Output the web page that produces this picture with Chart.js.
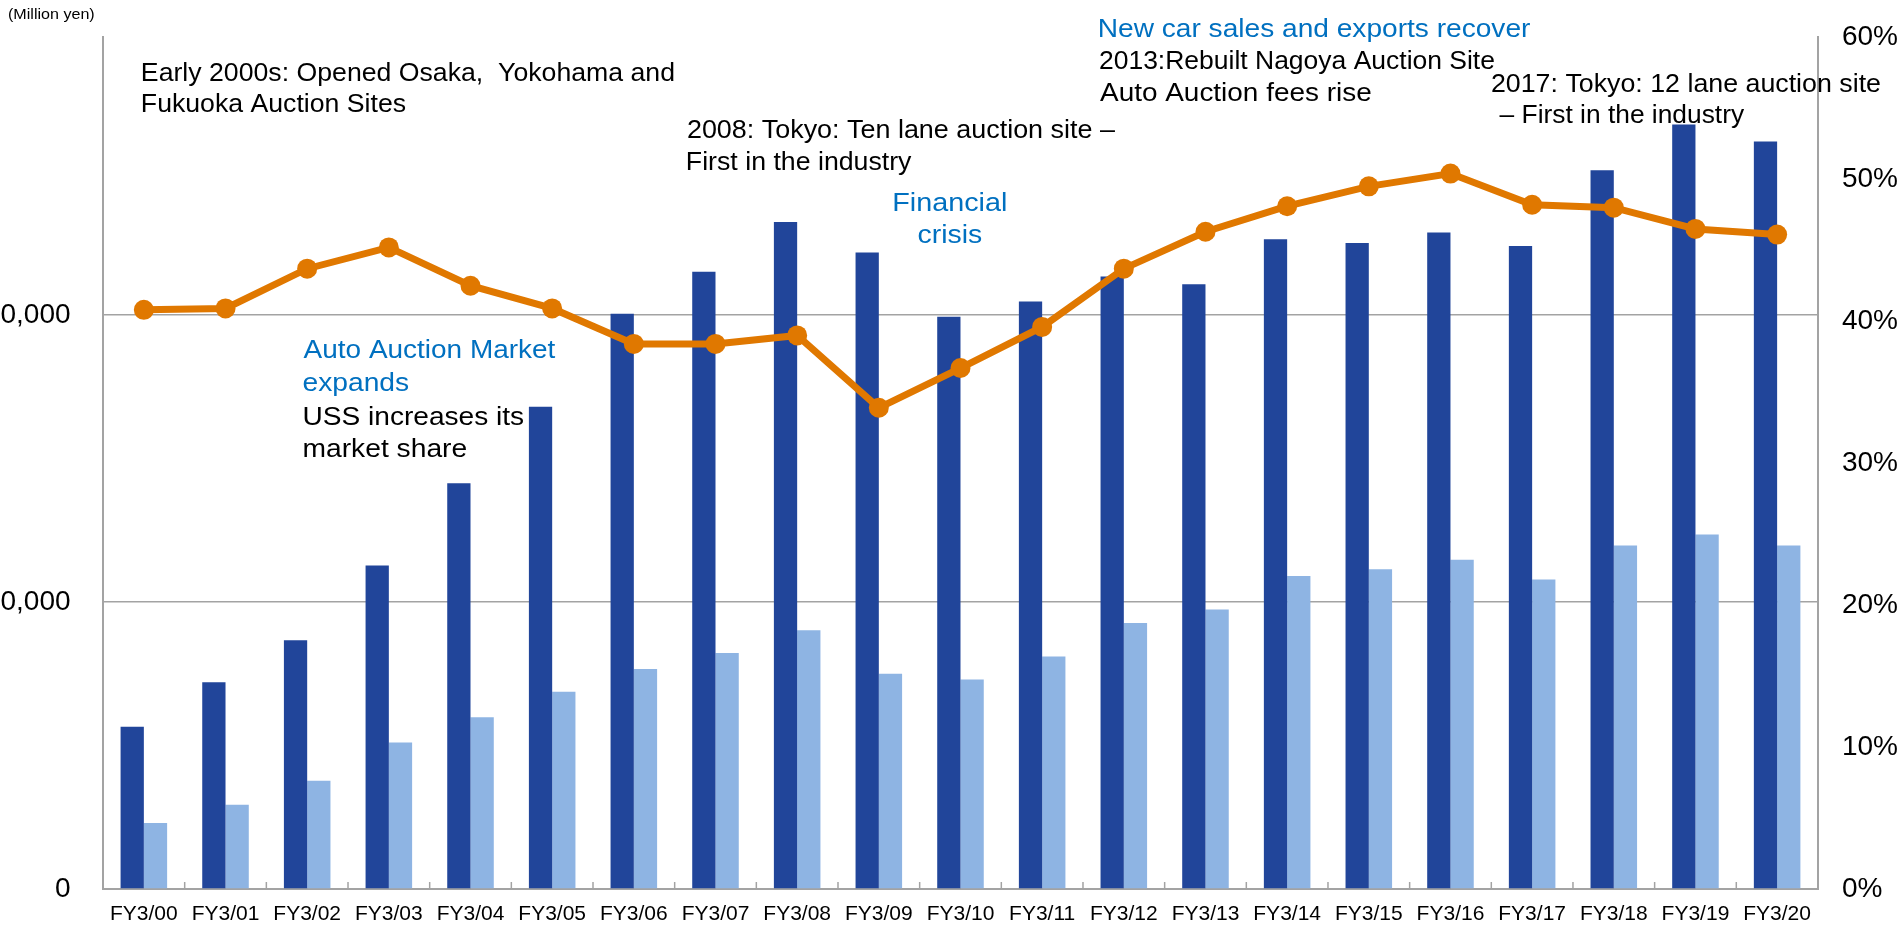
<!DOCTYPE html>
<html><head><meta charset="utf-8">
<script src="https://cdn.jsdelivr.net/npm/chart.js@4.4.1/dist/chart.umd.min.js"></script>
<style>
html,body{margin:0;padding:0;background:#fff;overflow:hidden;}
#wrap{position:relative;width:1899px;height:925px;overflow:hidden;background:#fff;}
#c{position:absolute;left:-48px;top:-12px;}
</style></head><body>
<div id="wrap"><canvas id="c" width="1970" height="951"></canvas></div>
<script>
// ---- data (million yen / %) ----
const categories = ['FY3/00','FY3/01','FY3/02','FY3/03','FY3/04','FY3/05','FY3/06','FY3/07','FY3/08','FY3/09','FY3/10',
                    'FY3/11','FY3/12','FY3/13','FY3/14','FY3/15','FY3/16','FY3/17','FY3/18','FY3/19','FY3/20'];
const revenue = [16950, 21600, 26000, 33800, 42400, 50400, 60100, 64500, 69700, 66500, 59800,
                 61400, 64000, 63200, 67900, 67500, 68600, 67200, 75100, 79900, 78100];
const operatingIncome = [6890, 8800, 11300, 15300, 17950, 20600, 23000, 24650, 27050, 22500, 21900,
                         24300, 27800, 29200, 32700, 33400, 34400, 32350, 35900, 37050, 35900];
const operatingMargin = [40.8, 40.9, 43.7, 45.2, 42.5, 40.9, 38.4, 38.4, 39.0, 33.9, 36.7,
                         39.6, 43.7, 46.3, 48.1, 49.5, 50.4, 48.2, 48.0, 46.5, 46.1];
const leftAxisTicks = [0, 30000, 60000];
const leftAxisMax = 89000;
const rightAxisTicks = [0, 10, 20, 30, 40, 50, 60];
const unitLabel = '(Million yen)';
const annotationTexts = [
  'Early 2000s: Opened Osaka,  Yokohama and', 'Fukuoka Auction Sites',
  '2008: Tokyo: Ten lane auction site \u2013', 'First in the industry',
  'Financial', 'crisis',
  'New car sales and exports recover',
  '2013:Rebuilt Nagoya Auction Site', 'Auto Auction fees rise',
  '2017: Tokyo: 12 lane auction site', '\u2013 First in the industry',
  'Auto Auction Market', 'expands',
  'USS increases its', 'market share'
];

// ---- layout / styling of the annotation texts (page px: ink-left x, baseline y, ink width, colour) ----
const BLUE = '#0070C0', BLACK = '#000000';
const annotationStyle = [
  [143, 81, 531, BLACK], [143, 112.3, 262.5, BLACK],
  [688, 137.7, 427, BLACK], [688, 170, 224, BLACK],
  [894.6, 211, 111, BLUE], [918.6, 243.3, 63, BLUE],
  [1100, 36.7, 430, BLUE],
  [1100, 69, 394, BLACK], [1100, 101, 270.7, BLACK],
  [1492, 92.3, 388, BLACK], [1499.6, 123, 245, BLACK],
  [303.6, 358.3, 251.8, BLUE], [303.6, 390.7, 105, BLUE],
  [303.6, 425, 220, BLACK], [303.6, 457.3, 162.6, BLACK]
];
const OFFSET_X = 48;   // canvas shifted left (reference crops the first digit of the left labels)
const OFFSET_Y = 12;   // canvas shifted up
const FONT = '"Liberation Sans", Arial, Helvetica, sans-serif';
const AXIS_GRAY = '#A3A3A3';

function drawFitted(ctx, text, x, y, inkW, color, size) {
  ctx.font = size + 'px ' + FONT;
  ctx.textAlign = 'left';
  ctx.textBaseline = 'alphabetic';
  const m = ctx.measureText(text);
  const ink = m.actualBoundingBoxRight + m.actualBoundingBoxLeft;
  const sx = ink > 0 ? inkW / ink : 1;
  ctx.save();
  ctx.translate(x + OFFSET_X, y + OFFSET_Y);
  ctx.scale(sx, 1);
  ctx.fillStyle = color;
  ctx.fillText(text, m.actualBoundingBoxLeft, 0);
  ctx.restore();
}

const overlayPlugin = {
  id: 'overlay',
  afterDraw(chart) {
    const ctx = chart.ctx;
    const xs = chart.scales.x;
    const area = chart.chartArea;
    ctx.save();
    ctx.strokeStyle = AXIS_GRAY;
    ctx.lineWidth = 1.5;
    for (let i = 1; i < categories.length; i++) {
      const bx = (xs.getPixelForValue(i - 1) + xs.getPixelForValue(i)) / 2;
      ctx.beginPath();
      ctx.moveTo(bx, area.bottom - 7);
      ctx.lineTo(bx, area.bottom);
      ctx.stroke();
    }
    ctx.restore();
    drawFitted(ctx, unitLabel, 8, 18.5, 86.7, BLACK, 15);
    annotationTexts.forEach((t, i) => {
      const s = annotationStyle[i];
      drawFitted(ctx, t, s[0], s[1], s[2], s[3], 25);
    });
  }
};

new Chart(document.getElementById('c'), {
  data: {
    labels: categories,
    datasets: [
      {type:'line', label:'Operating margin', data: operatingMargin, yAxisID:'y1',
       borderColor:'#E07800', backgroundColor:'#E07800', borderWidth:7, tension:0,
       pointRadius:10, pointHoverRadius:10, pointBackgroundColor:'#E07800', pointBorderWidth:0, order:0},
      {type:'bar', label:'Revenue', data: revenue, yAxisID:'y',
       backgroundColor:'#21459A', barPercentage:1.0, categoryPercentage:0.57, order:1},
      {type:'bar', label:'Operating income', data: operatingIncome, yAxisID:'y',
       backgroundColor:'#8EB4E3', barPercentage:1.0, categoryPercentage:0.57, order:1}
    ]
  },
  options: {
    responsive:false,
    animation:false,
    layout:{padding:{left:0.38, right:0, top:0, bottom:0}},
    plugins:{legend:{display:false}, tooltip:{enabled:false}},
    scales:{
      x:{
        type:'category',
        grid:{display:false, drawTicks:false},
        border:{display:true, color:AXIS_GRAY, width:2},
        ticks:{color:'#000', font:{family:FONT, size:21, lineHeight:1}, padding:14.5, maxRotation:0, autoSkip:false}
      },
      y:{
        position:'left',
        min:0, max:leftAxisMax,
        afterBuildTicks(scale){ scale.ticks = leftAxisTicks.map(v => ({value:v})); },
        grid:{drawTicks:false, lineWidth:1.5,
              color:c => (c.tick && c.tick.value === 0) ? 'rgba(0,0,0,0)' : AXIS_GRAY},
        border:{display:true, color:AXIS_GRAY, width:2},
        ticks:{color:'#000', font:{family:FONT, size:28}, padding:32.5,
               callback:v => v.toLocaleString('en-US')}
      },
      y1:{
        position:'right',
        min:rightAxisTicks[0], max:rightAxisTicks[rightAxisTicks.length-1],
        afterBuildTicks(scale){ scale.ticks = rightAxisTicks.map(v => ({value:v})); },
        grid:{drawOnChartArea:false, drawTicks:false},
        border:{display:true, color:AXIS_GRAY, width:2},
        ticks:{color:'#000', font:{family:FONT, size:28}, padding:24, callback:v => v + '%'}
      }
    }
  },
  plugins:[overlayPlugin]
});
</script>
</body></html>
